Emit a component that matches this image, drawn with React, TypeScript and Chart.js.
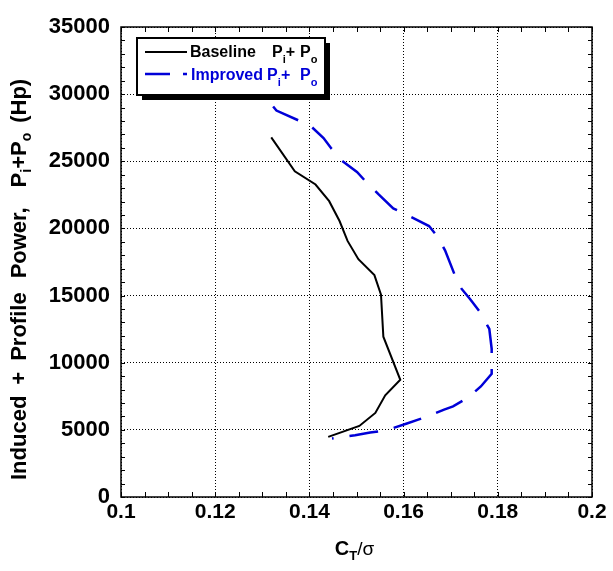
import React, { useEffect, useRef } from "react";
import { Chart, registerables } from "chart.js";

Chart.register(...registerables);

const FONT = '"Liberation Sans", Arial, Helvetica, sans-serif';
const BLUE = "#0000d8";

// Baseline rotor: C_T/sigma vs induced + profile power (Hp)
const baselineCT = [0.1319, 0.1369, 0.1413, 0.1442, 0.1464, 0.1481, 0.1504, 0.1538, 0.1552, 0.1557, 0.1593, 0.1561, 0.154, 0.1506, 0.144];
const baselinePower = [26780, 24260, 23270, 22030, 20550, 19070, 17710, 16520, 15060, 11940, 8730, 7570, 6260, 5290, 4480];

// Improved rotor
const improvedCT = [0.1323, 0.133, 0.1402, 0.143, 0.1447, 0.1469, 0.1501, 0.1519, 0.1547, 0.1578, 0.1598, 0.1626, 0.1654, 0.1672, 0.1688, 0.1708, 0.1722, 0.1741, 0.1761, 0.1778, 0.1782, 0.1787, 0.1787, 0.1764, 0.1737, 0.1705, 0.1686, 0.1656, 0.1631, 0.1607, 0.1578, 0.155, 0.1529, 0.1497, 0.1448];
const improvedPower = [29080, 28780, 27650, 26730, 25940, 25050, 24210, 23520, 22530, 21490, 21170, 20670, 20180, 19390, 18370, 16590, 15550, 14740, 13820, 12760, 12510, 11030, 9180, 8230, 7400, 6750, 6510, 6080, 5760, 5470, 5140, 4900, 4800, 4600, 4360];

const xMin = 0.1;
const xMax = 0.2;
const xStep = 0.02;
const xMinorStep = 0.005;
const yMin = 0;
const yMax = 35000;
const yStep = 5000;
const yMinorStep = 1000;

type Run = { text: string; size: number; bold: boolean; dy?: number; x?: number; gap?: number };

function setFont(ctx: CanvasRenderingContext2D, r: Run) {
  ctx.font = `${r.bold ? "bold " : ""}${r.size}px ${FONT}`;
}

function runsWidth(ctx: CanvasRenderingContext2D, runs: Run[]) {
  let w = 0;
  for (const r of runs) {
    setFont(ctx, r);
    w += (r.gap || 0) + ctx.measureText(r.text).width;
  }
  return w;
}

function drawRuns(ctx: CanvasRenderingContext2D, runs: Run[], x: number, y: number) {
  let cx = x;
  for (const r of runs) {
    setFont(ctx, r);
    const px = r.x !== undefined ? r.x : cx + (r.gap || 0);
    ctx.fillText(r.text, px, y + (r.dy || 0));
    cx = px + ctx.measureText(r.text).width;
  }
}

const decorations = {
  id: "decorations",
  afterDraw(chart: Chart) {
    const ctx = chart.ctx;
    const { left, right, top, bottom } = chart.chartArea;
    const xs = chart.scales.x;
    const ys = chart.scales.y;

    ctx.save();
    // tick marks on all four sides
    ctx.strokeStyle = "#000";
    ctx.lineWidth = 1;
    ctx.beginPath();
    for (let v = xMin; v <= xMax + 1e-9; v += xMinorStep) {
      const px = Math.round(xs.getPixelForValue(v)) + 0.5;
      ctx.moveTo(px, bottom);
      ctx.lineTo(px, bottom - 5);
      ctx.moveTo(px, top);
      ctx.lineTo(px, top + 5);
    }
    for (let v = yMin; v <= yMax + 1e-9; v += yMinorStep) {
      const py = Math.round(ys.getPixelForValue(v)) + 0.5;
      ctx.moveTo(left, py);
      ctx.lineTo(left + 4, py);
      ctx.moveTo(right, py);
      ctx.lineTo(right - 4, py);
    }
    ctx.stroke();

    // frame
    ctx.lineWidth = 1.5;
    ctx.strokeRect(left, top, right - left, bottom - top);

    // legend box with drop shadow
    const lx = 137, ly = 38, lw = 188, lh = 57;
    ctx.fillStyle = "#000";
    ctx.fillRect(lx + 5, ly + 5, lw, lh);
    ctx.fillStyle = "#fff";
    ctx.fillRect(lx, ly, lw, lh);
    ctx.lineWidth = 2;
    ctx.strokeStyle = "#000";
    ctx.strokeRect(lx, ly, lw, lh);

    // legend samples
    ctx.lineWidth = 2;
    ctx.strokeStyle = "#000";
    ctx.beginPath();
    ctx.moveTo(145, 52);
    ctx.lineTo(187, 52);
    ctx.stroke();
    ctx.strokeStyle = BLUE;
    ctx.lineWidth = 2.5;
    ctx.setLineDash([25, 13]);
    ctx.beginPath();
    ctx.moveTo(145, 74);
    ctx.lineTo(187, 74);
    ctx.stroke();
    ctx.setLineDash([]);

    ctx.textAlign = "left";
    ctx.textBaseline = "alphabetic";
    ctx.fillStyle = "#000";
    drawRuns(ctx, [
      { text: "Baseline", size: 16, bold: true, x: 190 },
      { text: "P", size: 16, bold: true, x: 272 },
      { text: "i", size: 11, bold: true, dy: 6 },
      { text: "+", size: 16, bold: true },
      { text: "P", size: 16, bold: true, x: 300 },
      { text: "o", size: 11, bold: true, dy: 6 },
    ], 190, 57);
    ctx.fillStyle = BLUE;
    drawRuns(ctx, [
      { text: "Improved", size: 16, bold: true, x: 191 },
      { text: "P", size: 16, bold: true, x: 267 },
      { text: "i", size: 11, bold: true, dy: 6 },
      { text: "+", size: 16, bold: true, x: 281 },
      { text: "P", size: 16, bold: true, x: 300 },
      { text: "o", size: 11, bold: true, dy: 6 },
    ], 191, 80);

    // x axis title: C_T / sigma
    ctx.fillStyle = "#000";
    const xTitle: Run[] = [
      { text: "C", size: 20, bold: true },
      { text: "T", size: 13, bold: true, dy: 5 },
      { text: "/\u03c3", size: 19, bold: false },
    ];
    const xw = runsWidth(ctx, xTitle);
    drawRuns(ctx, xTitle, (left + right) / 2 - 2 - xw / 2, 555);

    // y axis title, rotated, read bottom to top
    const yTitle: Run[] = [
      { text: "Induced", size: 22, bold: true },
      { text: "+", size: 22, bold: true, gap: 11 },
      { text: "Profile", size: 22, bold: true, gap: 11 },
      { text: "Power,", size: 22, bold: true, gap: 14 },
      { text: "P", size: 22, bold: true, gap: 20 },
      { text: "i", size: 14, bold: true, dy: 5 },
      { text: "+P", size: 22, bold: true },
      { text: "o", size: 14, bold: true, dy: 5 },
      { text: "(Hp)", size: 22, bold: true, gap: 10 },
    ];
    ctx.translate(26, 0);
    ctx.rotate(-Math.PI / 2);
    drawRuns(ctx, yTitle, -480, 0);
    ctx.restore();
  },
};

export default function App() {
  const ref = useRef<HTMLCanvasElement>(null);

  useEffect(() => {
    if (!ref.current) return;
    const chart = new Chart(ref.current, {
      type: "line",
      data: {
        datasets: [
          {
            label: "Baseline Pi+Po",
            data: baselineCT.map((x, i) => ({ x, y: baselinePower[i] })),
            borderColor: "#000",
            borderWidth: 2,
            pointRadius: 0,
            tension: 0,
            fill: false,
          },
          {
            label: "Improved Pi+Po",
            data: improvedCT.map((x, i) => ({ x, y: improvedPower[i] })),
            borderColor: BLUE,
            borderWidth: 2.5,
            borderDash: [29, 16],
            pointRadius: 0,
            tension: 0,
            fill: false,
          },
        ],
      },
      options: {
        responsive: false,
        animation: false,
        layout: { padding: { top: 27, right: 21, left: 0, bottom: 0 } },
        plugins: {
          legend: { display: false },
          tooltip: { enabled: false },
        },
        scales: {
          x: {
            type: "linear",
            min: xMin,
            max: xMax,
            afterFit: (s: any) => {
              s.height = 74;
            },
            ticks: {
              stepSize: xStep,
              padding: 3,
              color: "#000",
              font: { family: FONT, size: 21, weight: "bold" },
              callback: (v: any) => String(Number(Number(v).toFixed(2))),
            },
            grid: { color: "#000", lineWidth: 1, drawTicks: false },
            border: { display: false, dash: [1, 2] },
          },
          y: {
            type: "linear",
            min: yMin,
            max: yMax,
            afterFit: (s: any) => {
              s.width = 121;
            },
            ticks: {
              stepSize: yStep,
              padding: 11,
              color: "#000",
              font: { family: FONT, size: 22, weight: "bold" },
              callback: (v: any) => String(v),
            },
            grid: { color: "#000", lineWidth: 1, drawTicks: false },
            border: { display: false, dash: [1, 2] },
          },
        },
      },
      plugins: [decorations],
    });
    return () => chart.destroy();
  }, []);

  return (
    <div style={{ position: "fixed", left: 0, top: 0, width: 613, height: 571, background: "#fff" }}>
      <canvas ref={ref} width={613} height={571} />
    </div>
  );
}
